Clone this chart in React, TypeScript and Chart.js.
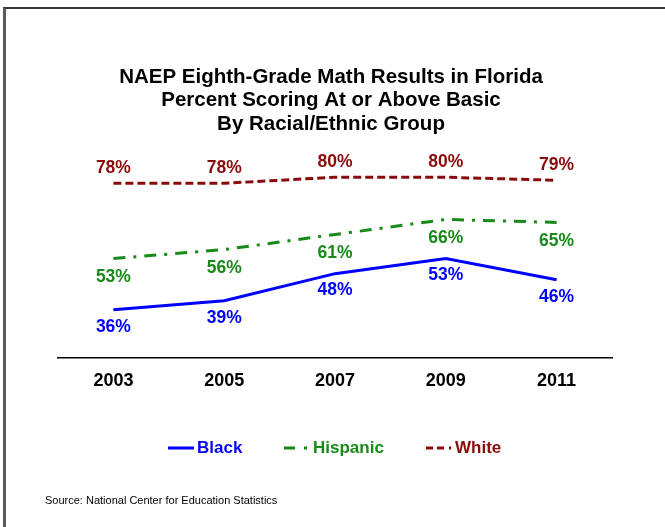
import React, { useEffect, useRef } from "react";
import { Chart, registerables } from "chart.js";

Chart.register(...registerables);

const years = ["2003", "2005", "2007", "2009", "2011"];
const black = [36, 39, 48, 53, 46];
const hispanic = [53, 56, 61, 66, 65];
const white = [78, 78, 80, 80, 79];
const titleLines = [
  "NAEP Eighth-Grade Math Results in Florida",
  "Percent Scoring At or Above Basic",
  "By Racial/Ethnic Group",
];
const seriesNames = ["Black", "Hispanic", "White"];
const sourceText = "Source: National Center for Education Statistics";

const FONT = '"Liberation Sans", Arial, Helvetica, sans-serif';
const BLUE = "#0000ff";
const GREEN = "#188a18";
const RED = "#8b0a0a";

const labelPlugin = {
  id: "valueLabels",
  afterDatasetsDraw(chart: any) {
    const ctx = chart.ctx;
    ctx.save();
    ctx.font = `bold 17.5px ${FONT}`;
    ctx.textAlign = "center";
    ctx.textBaseline = "middle";
    chart.data.datasets.forEach((ds: any, i: number) => {
      const meta = chart.getDatasetMeta(i);
      ctx.fillStyle = ds.borderColor;
      meta.data.forEach((pt: any, j: number) => {
        ctx.fillText(ds.data[j] + "%", pt.x, pt.y + ds.labelOffset);
      });
    });
    ctx.restore();
  },
};

const decorPlugin = {
  id: "decor",
  afterDraw(chart: any) {
    const ctx = chart.ctx;
    ctx.save();
    // title
    ctx.fillStyle = "#000";
    ctx.font = `bold 20.5px ${FONT}`;
    ctx.textAlign = "center";
    ctx.textBaseline = "middle";
    const ty = [77, 100, 124];
    titleLines.forEach((t, i) => ctx.fillText(t, 331, ty[i]));

    // legend
    const ly = 448;
    ctx.lineWidth = 3;
    ctx.font = `bold 17px ${FONT}`;
    ctx.textAlign = "left";
    // Black
    ctx.strokeStyle = BLUE;
    ctx.setLineDash([]);
    ctx.beginPath();
    ctx.moveTo(168, ly);
    ctx.lineTo(194, ly);
    ctx.stroke();
    ctx.fillStyle = BLUE;
    ctx.fillText(seriesNames[0], 197, ly);
    // Hispanic
    ctx.strokeStyle = GREEN;
    ctx.beginPath();
    ctx.moveTo(284, ly);
    ctx.lineTo(295, ly);
    ctx.moveTo(304, ly);
    ctx.lineTo(307, ly);
    ctx.stroke();
    ctx.fillStyle = GREEN;
    ctx.fillText(seriesNames[1], 313, ly);
    // White
    ctx.strokeStyle = RED;
    ctx.beginPath();
    ctx.moveTo(426, ly);
    ctx.lineTo(433, ly);
    ctx.moveTo(437, ly);
    ctx.lineTo(444, ly);
    ctx.moveTo(449, ly);
    ctx.lineTo(451, ly);
    ctx.stroke();
    ctx.fillStyle = RED;
    ctx.fillText(seriesNames[2], 455, ly);

    // source
    ctx.fillStyle = "#000";
    ctx.font = `11px ${FONT}`;
    ctx.fillText(sourceText, 45, 501);
    ctx.restore();
  },
};

export default function App() {
  const ref = useRef<HTMLCanvasElement>(null);
  useEffect(() => {
    if (!ref.current) return;
    const chart = new Chart(ref.current, {
      type: "line",
      data: {
        labels: years,
        datasets: [
          {
            label: seriesNames[2],
            data: white,
            borderColor: RED,
            borderWidth: 3,
            borderDash: [8, 4],
            pointRadius: 0,
            tension: 0,
            labelOffset: -15.5,
          } as any,
          {
            label: seriesNames[1],
            data: hispanic,
            borderColor: GREEN,
            borderWidth: 3,
            borderDash: [12, 8, 3, 8],
            pointRadius: 0,
            tension: 0,
            labelOffset: 18.5,
          } as any,
          {
            label: seriesNames[0],
            data: black,
            borderColor: BLUE,
            borderWidth: 3,
            pointRadius: 0,
            tension: 0,
            labelOffset: 17,
          } as any,
        ],
      },
      options: {
        responsive: false,
        animation: false,
        devicePixelRatio: 1,
        layout: { padding: { top: 117, left: 58, right: 53, bottom: 0 } },
        plugins: {
          legend: { display: false },
          title: { display: false },
          tooltip: { enabled: false },
        },
        scales: {
          x: {
            type: "category",
            offset: true,
            grid: { display: false, drawTicks: false },
            border: { display: true, color: "#000", width: 1.5 },
            ticks: {
              color: "#000",
              font: { family: FONT, size: 18, weight: "bold" },
              padding: 12,
              maxRotation: 0,
            },
            afterFit: (scale: any) => {
              scale.height = 169;
            },
          },
          y: {
            display: false,
            min: 20,
            max: 100,
          },
        },
      },
      plugins: [labelPlugin, decorPlugin],
    });
    return () => chart.destroy();
  }, []);

  return (
    <div
      style={{
        position: "fixed",
        left: 0,
        top: 0,
        width: 665,
        height: 527,
        overflow: "hidden",
        background: "#fff",
      }}
    >
      <div
        style={{
          position: "absolute",
          left: 3,
          top: 7,
          width: 800,
          height: 700,
          borderTop: "2px solid #333",
          borderLeft: "3px solid #5a5a5a",
        }}
      />
      <canvas
        ref={ref}
        width={665}
        height={527}
        style={{ position: "absolute", left: 0, top: 0, width: 665, height: 527 }}
      />
    </div>
  );
}
